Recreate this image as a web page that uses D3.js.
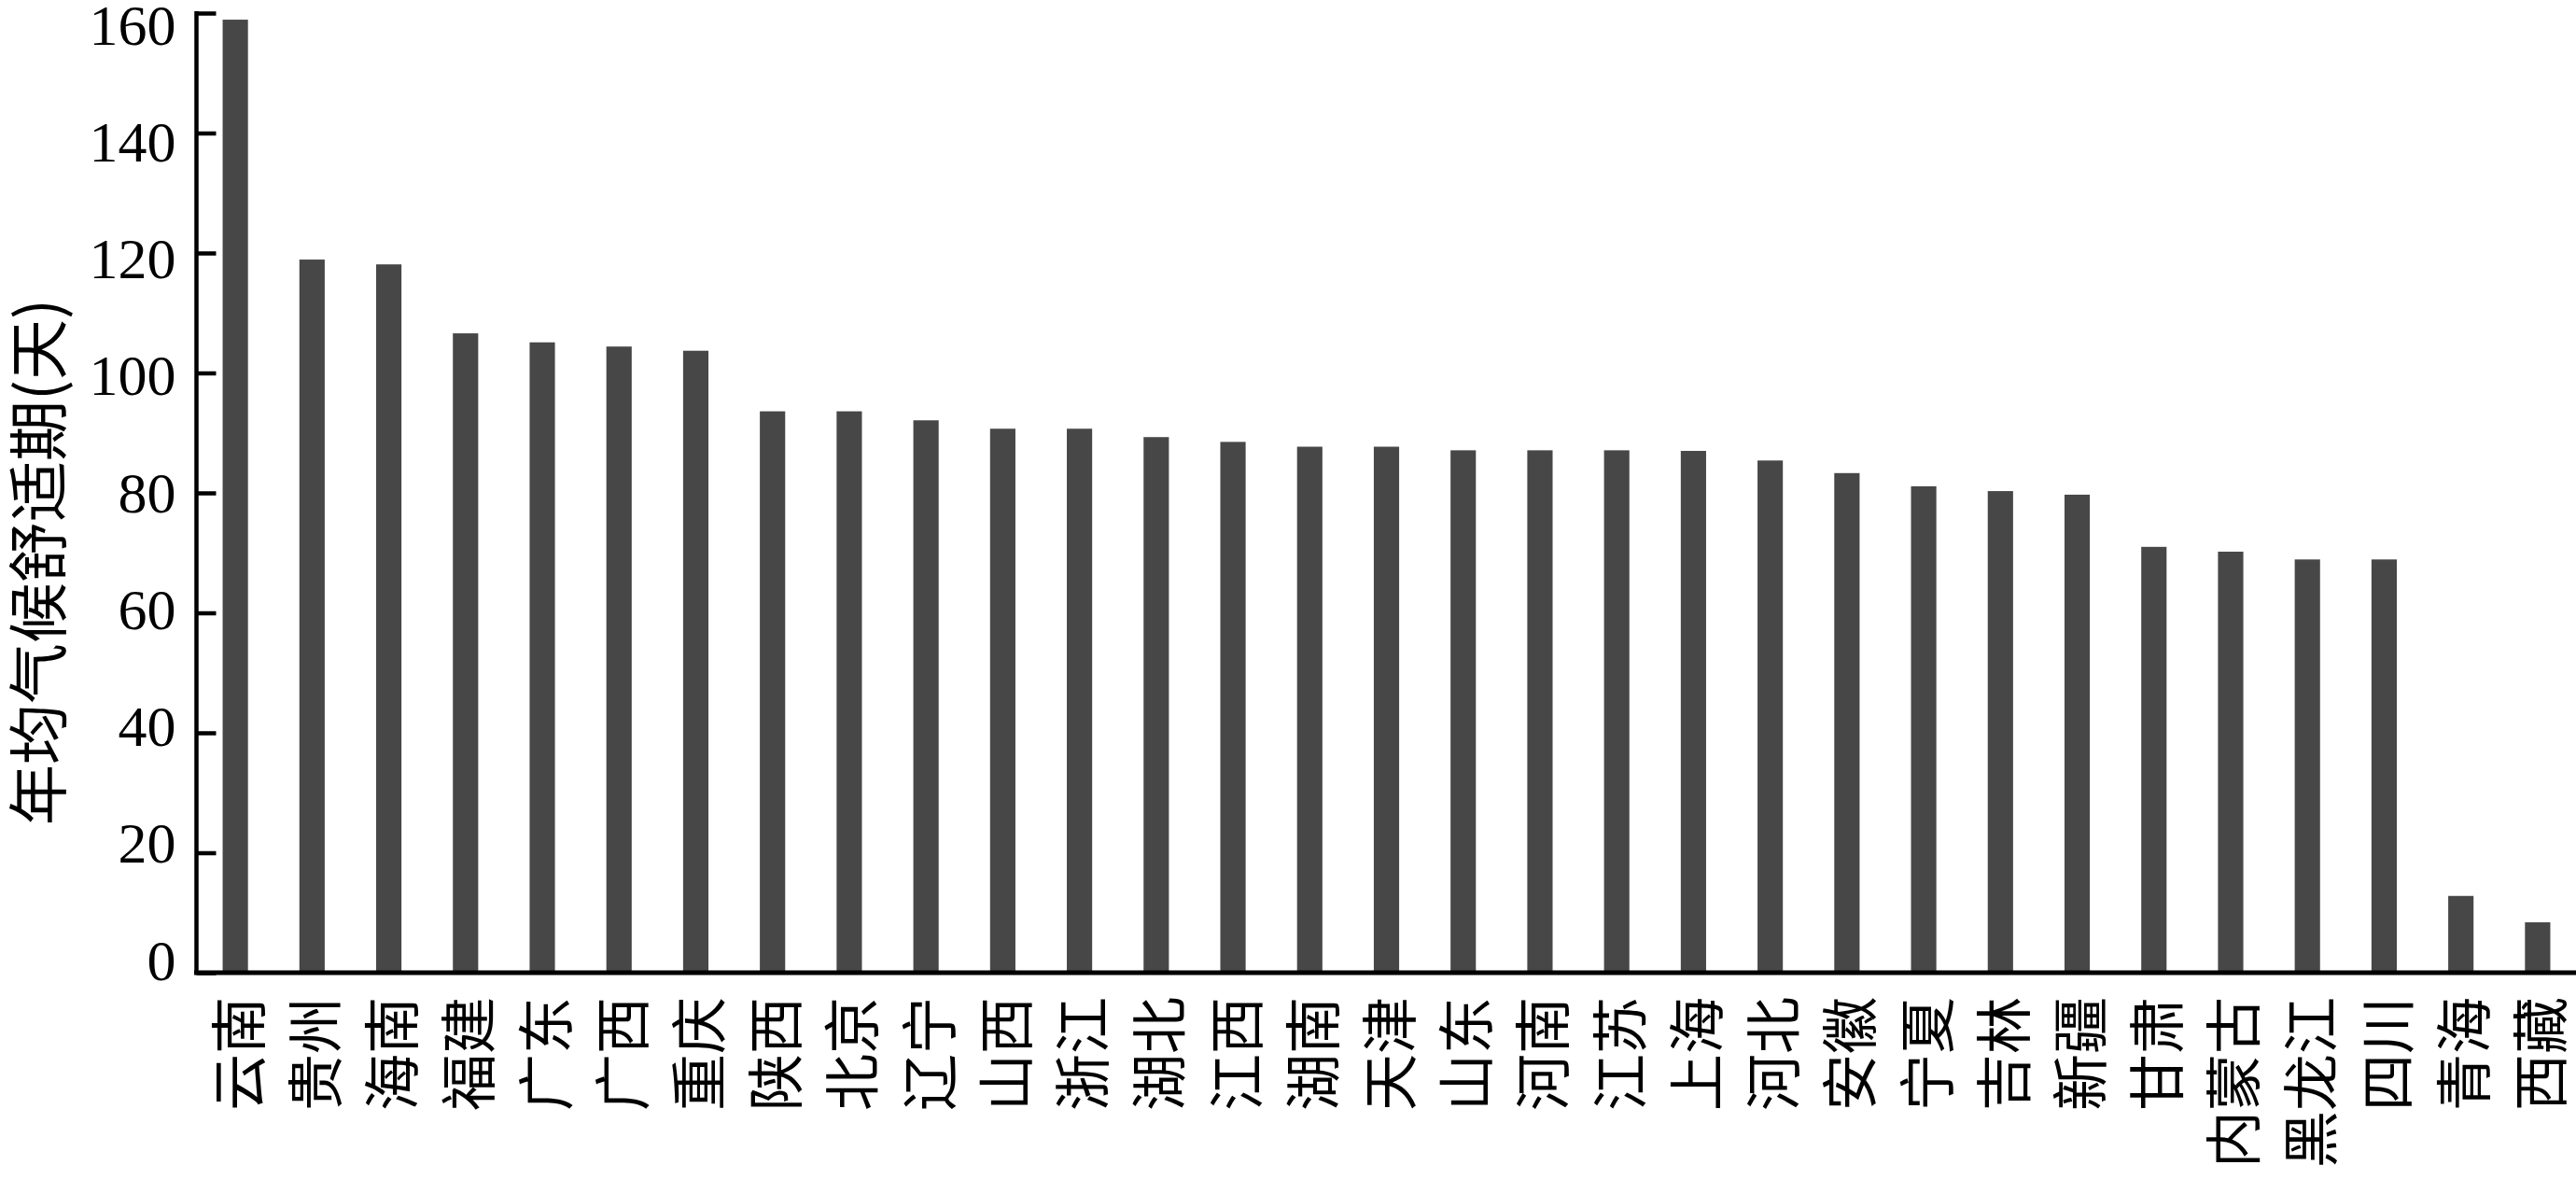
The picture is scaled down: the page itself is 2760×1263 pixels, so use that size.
<!DOCTYPE html>
<html>
<head>
<meta charset="utf-8">
<script src="https://cdn.jsdelivr.net/npm/d3@7"></script>
<style>
html,body{margin:0;padding:0;background:#fff;}
svg{display:block;}
</style>
</head>
<body>
<svg id="chart" width="2760" height="1263"></svg>
<script>
const categories = ["云南","贵州","海南","福建","广东","广西","重庆","陕西","北京","辽宁","山西","浙江","湖北","江西","湖南","天津","山东","河南","江苏","上海","河北","安徽","宁夏","吉林","新疆","甘肃","内蒙古","黑龙江","四川","青海","西藏"];
const values = [158.9,118.9,118.1,106.6,105.1,104.4,103.7,93.6,93.6,92.1,90.7,90.7,89.3,88.5,87.7,87.7,87.1,87.1,87.1,87.0,85.4,83.3,81.1,80.3,79.7,71.0,70.2,68.9,68.9,12.8,8.4];
const yTicks = [0,20,40,60,80,100,120,140,160];
const yTitle = "年均气候舒适期(天)";

(function(){
const svg = d3.select("#chart");
const mLeft = 211, mRight = 2760, mTop = 14, mBottom = 1042;

const x = d3.scaleBand().domain(categories).range([mLeft, mRight]).paddingInner(0.67).paddingOuter(0.335);
const y = d3.scaleLinear().domain([0,160]).range([mBottom, mTop]);
const yLab = d3.scaleLinear().domain([0,160]).range([1028, 26]);

const data = categories.map((c,i)=>({c, v: values[i]}));

svg.append("g").selectAll("rect").data(data).join("rect")
  .attr("x", d=>x(d.c)).attr("width", x.bandwidth())
  .attr("y", d=>y(d.v)).attr("height", d=>mBottom - y(d.v))
  .attr("fill", "#474747");

// y axis
const yAxis = svg.append("g").attr("transform", `translate(${mLeft - 0.5},0)`)
  .call(d3.axisLeft(y).tickValues(yTicks).tickSize(-21).tickSizeOuter(0).tickPadding(0));
yAxis.select(".domain").attr("stroke", "#000").attr("stroke-width", 4.5).attr("d", `M0,${mTop-2}V${mBottom}`);
yAxis.selectAll(".tick line").attr("stroke", "#000").attr("stroke-width", 4.5);
yAxis.selectAll(".tick text")
  .attr("x", -22).attr("dy", null)
  .attr("y", d => yLab(d) - y(d))
  .attr("dominant-baseline", "central")
  .attr("fill", "#000")
  .style("font-family", "'Liberation Serif','Times New Roman',serif")
  .style("font-size", "62px")
  .attr("text-anchor", "end");

// x axis
const xAxis = svg.append("g").attr("transform", `translate(0,${mBottom})`)
  .call(d3.axisBottom(x).tickSize(0).tickSizeOuter(0));
xAxis.select(".domain").attr("stroke", "#000").attr("stroke-width", 5).attr("d", `M${mLeft-3},0H${mRight}`);
xAxis.selectAll(".tick text")
  .attr("y", null).attr("dy", null)
  .attr("transform", "translate(0,26) rotate(-90)")
  .attr("text-anchor", "end")
  .attr("dominant-baseline", "central")
  .attr("fill", "#000")
  .style("font-family", "'Noto Sans CJK SC','Noto Sans CJK JP',sans-serif")
  .style("font-size", "61px");

// y title
svg.append("text")
  .attr("transform", "translate(37,602) rotate(-90)")
  .attr("text-anchor", "middle")
  .attr("dominant-baseline", "central")
  .style("font-family", "'Noto Sans CJK SC',sans-serif")
  .style("font-size", "65px")
  .attr("fill", "#000")
  .text(yTitle);
})();
</script>
</body>
</html>
